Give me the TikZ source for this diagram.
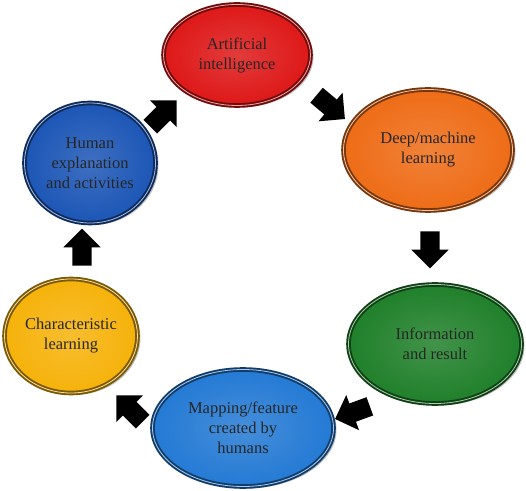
\documentclass[tikz,border=0pt]{standalone}
\usepackage{fontspec}
\setmainfont{Liberation Serif}
\usetikzlibrary{shapes.geometric,shapes.arrows,shadows}
\definecolor{AIRed}{RGB}{222,24,24}
\definecolor{DMOrange}{RGB}{238,108,22}
\definecolor{IRGreen}{RGB}{32,128,42}
\definecolor{MFBlue}{RGB}{36,122,212}
\definecolor{CLYellow}{RGB}{246,178,10}
\definecolor{HEBlue}{RGB}{28,86,182}

\begin{document}
\begin{tikzpicture}[x=1pt,y=1pt,
        bubble/.style={ellipse,draw=#1!50!black,double=#1!40!white,
          double distance=0.8pt,line width=1.9pt,shade,
          inner color=#1!85!white,outer color=#1,inner sep=0pt,
          align=center,text=black!85,font=\fontsize{16.5}{20}\selectfont,
          drop shadow={shadow xshift=3pt,shadow yshift=-2pt,opacity=0.5}},
        blockarrow/.style={single arrow,fill=black,draw=none,inner xsep=0pt,
          inner ysep=9.5pt,minimum height=37pt,
          single arrow head extend=9pt,rotate=#1}
      ]
        \useasboundingbox (0,0) rectangle (526,490);
        % the six stages of the cycle
        \node[bubble=AIRed,minimum width=147pt,minimum height=101pt]
          (ai) at (237,435) {Artificial\\intelligence};
        \node[bubble=DMOrange,minimum width=169pt,minimum height=121pt]
          (dml) at (428,340) {Deep/machine\\learning};
        \node[bubble=IRGreen,minimum width=173pt,minimum height=119pt]
          (info) at (435,146) {Information\\and result};
        \node[bubble=MFBlue,minimum width=181pt,minimum height=117pt]
          (map) at (243,62) {Mapping/feature\\created by\\humans};
        \node[bubble=CLYellow,minimum width=133pt,minimum height=114pt]
          (char) at (71,154) {Characteristic\\learning};
        \node[bubble=HEBlue,minimum width=131pt,minimum height=120pt]
          (human) at (90,327) {Human\\explanation\\and activities};
        % block arrows between the stages
        \node[blockarrow=-40] (ai-dml) at (327,386) {};
        \node[blockarrow=-90] (dml-info) at (430,245) {};
        \node[blockarrow=200] (info-map) at (357,79) {};
        \node[blockarrow=135] (map-char) at (133,78) {};
        \node[blockarrow=90] (char-human) at (82,238) {};
        \node[blockarrow=45] (human-ai) at (160,373) {};
      \end{tikzpicture}
\end{document}
